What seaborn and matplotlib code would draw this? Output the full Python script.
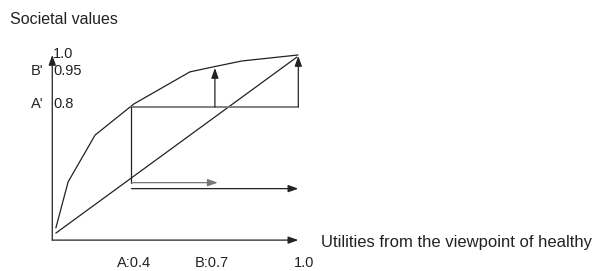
import matplotlib
matplotlib.use("Agg")
import matplotlib.pyplot as plt
import seaborn as sns
import pandas as pd

sns.set_theme(style="white")
plt.rcParams['font.family'] = ['Liberation Sans', 'DejaVu Sans']

# societal value curve (utility of healthy -> societal value)
curve_x = [0.128, 0.172, 0.269, 0.409, 0.610, 0.693, 0.797, 0.999]
curve_y = [0.335, 0.512, 0.692, 0.812, 0.935, 0.954, 0.977, 1.000]

# identity-like diagonal
diag_x = [0.128, 0.995]
diag_y = [0.315, 0.992]

# utilities of the two states and their societal values
util_a, util_b, util_max = 0.4, 0.7, 1.0
value_a, value_b, value_max = 0.8, 0.95, 1.0
arrow_low_1 = 0.509
arrow_low_2 = 0.486

# axis origin (schematic)
origin_x, origin_y = 0.115, 0.288

x_tick_labels = ["A:0.4", "B:0.7", "1.0"]
x_tick_pos = [0.409, 0.690, 1.020]
y_tick_labels = ["1.0", "0.95", "0.8"]
y_tick_pos = [1.003, 0.940, 0.810]
y_letters = ["B'", "A'"]
y_letter_pos = [0.940, 0.810]

fig = plt.figure(figsize=(6.04, 2.71), dpi=100)
ax = fig.add_axes([0, 0, 1, 1])
ax.set_xlim(-0.073, 2.0996)
ax.set_ylim(0.1692, 1.2115)
ax.axis("off")

line_col = "#222222"
grey_col = "#777777"

df_curve = pd.DataFrame({"x": curve_x, "y": curve_y})
df_diag = pd.DataFrame({"x": diag_x, "y": diag_y})
sns.lineplot(data=df_curve, x="x", y="y", sort=False, ax=ax, color=line_col, linewidth=0.9)
sns.lineplot(data=df_diag, x="x", y="y", sort=False, ax=ax, color=line_col, linewidth=0.9)

arrow_kw = dict(arrowstyle="-|>,head_length=0.5,head_width=0.18", color=line_col,
                lw=0.9, shrinkA=0, shrinkB=0)

# axes
ax.annotate("", xy=(origin_x, value_max), xytext=(origin_x, origin_y), arrowprops=arrow_kw)
ax.annotate("", xy=(util_max, origin_y), xytext=(origin_x, origin_y), arrowprops=arrow_kw)

# level line at A'
ax.plot([util_a, util_max], [value_a, value_a], color=grey_col, linewidth=1.3)
ax.plot([util_a, util_a], [value_a, arrow_low_1], color=line_col, linewidth=0.9)

# vertical arrows up to B' and to 1.0
ax.annotate("", xy=(util_b, value_b), xytext=(util_b, value_a), arrowprops=arrow_kw)
ax.annotate("", xy=(util_max, value_max - 0.004), xytext=(util_max, value_a),
            arrowprops=arrow_kw)

# horizontal arrows
ax.annotate("", xy=(util_b + 0.01, arrow_low_1), xytext=(util_a, arrow_low_1),
            arrowprops=dict(arrow_kw, color=grey_col))
ax.annotate("", xy=(util_max, arrow_low_2), xytext=(util_a, arrow_low_2), arrowprops=arrow_kw)

txt_col = "#222222"
fs = 10.5
ax.text(-0.037, 1.137, "Societal values", fontsize=11.5, color=txt_col, va="center", ha="left")
for lab, yp in zip(y_tick_labels, y_tick_pos):
    ax.text(0.118, yp, lab, fontsize=fs, color=txt_col, va="center", ha="left")
for lab, yp in zip(y_letters, y_letter_pos):
    ax.text(0.084, yp, lab, fontsize=fs, color=txt_col, va="center", ha="right")
for lab, xp in zip(x_tick_labels, x_tick_pos):
    ax.text(xp, 0.200, lab, fontsize=fs, color=txt_col, va="center", ha="center")
ax.text(1.081, 0.277, "Utilities from the viewpoint of healthy", fontsize=12,
        color=txt_col, va="center", ha="left")

fig.savefig("out.png", dpi=100)
